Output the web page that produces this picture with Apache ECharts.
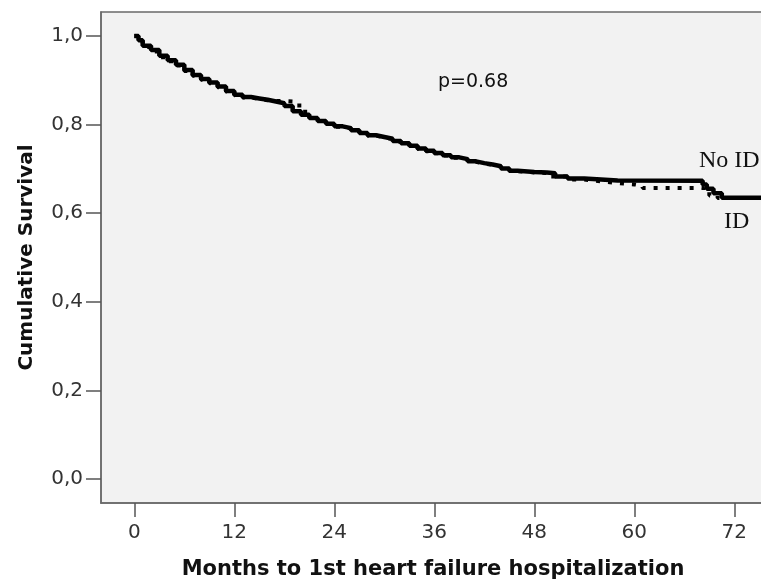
<!DOCTYPE html>
<html>
<head>
<meta charset="utf-8">
<script src="https://cdn.jsdelivr.net/npm/echarts@6/dist/echarts.min.js"></script>
<style>html,body{margin:0;padding:0;background:#fff}#c{width:761px;height:581px}</style>
</head>
<body>
<div id="c"></div>
<script>
// Kaplan-Meier estimates (months, cumulative survival)
const noIdMonths = [0,0.5,1,2,3,4,5,6,7,8,9,10,11,12,13,14,15,16,17,18,19,20,21,22,23,24,25,26,27,28,29,30,31,32,33,34,35,36,37,38,39,40,41,42,43,44,45,46,48,49.5,50.5,52,54,56,58,68.2,68.7,69.5,70.5,75.5];
const noIdSurv   = [1.000,0.990,0.978,0.968,0.955,0.945,0.935,0.923,0.912,0.903,0.895,0.886,0.876,0.867,0.862,0.859,0.856,0.852,0.848,0.842,0.830,0.822,0.815,0.808,0.802,0.796,0.792,0.787,0.781,0.776,0.772,0.768,0.763,0.758,0.752,0.746,0.741,0.736,0.731,0.726,0.722,0.717,0.713,0.710,0.706,0.701,0.696,0.693,0.692,0.690,0.683,0.678,0.676,0.674,0.673,0.665,0.655,0.645,0.635,0.635];

const idMonths = [0,0.5,1,2,3,4,5,6,7,8,9,10,11,12,13,14,15,16,17,18,19,19.8,20.5,21,22,23,24,25,26,27,28,29,30,31,32,33,34,35,36,37,38,39,40,41,42,43,44,45,46,48,50,52,54,56,58,60,61,68.3,69,70,75.5];
const idSurv   = [1.000,0.988,0.975,0.965,0.952,0.943,0.933,0.921,0.910,0.901,0.893,0.884,0.874,0.866,0.861,0.858,0.855,0.853,0.853,0.852,0.850,0.835,0.822,0.815,0.808,0.801,0.795,0.791,0.786,0.780,0.775,0.771,0.767,0.762,0.757,0.751,0.745,0.740,0.735,0.730,0.725,0.721,0.716,0.712,0.709,0.705,0.700,0.695,0.692,0.690,0.683,0.676,0.672,0.668,0.665,0.662,0.657,0.650,0.640,0.634,0.634];

const xTicks = [0,12,24,36,48,60,72];
const yTicks = [0,0.2,0.4,0.6,0.8,1.0];

const pairs = (xs, ys) => xs.map((x, i) => [x, ys[i]]);

const chart = echarts.init(document.getElementById('c'), null, {renderer:'canvas'});
chart.setOption({
  animation: false,
  backgroundColor: '#ffffff',
  grid: {left: 101, top: 12, width: 664, height: 491, show: true, containLabel: false, outerBoundsMode: 'none',
         backgroundColor: '#f2f2f2', borderColor: '#6a6a6a', borderWidth: 1.5},
  xAxis: {
    type: 'value', min: -4, max: (765-134.3)/100*12,
    name: 'Months to 1st heart failure hospitalization', nameLocation: 'middle', nameGap: 56,
    nameTextStyle: {fontFamily: 'DejaVu Sans', fontWeight: 'bold', fontSize: 21, color: '#111'},
    axisLine: {show: true, onZero: false, lineStyle: {color: '#6a6a6a', width: 1.5}},
    axisTick: {show: true, length: 14, customValues: xTicks, lineStyle: {color: '#555', width: 1.5}},
    axisLabel: {customValues: xTicks, margin: 20, fontFamily: 'DejaVu Sans', fontSize: 20, color: '#333'},
    splitLine: {show: false}
  },
  yAxis: {
    type: 'value', min: -0.054, max: 1.054,
    name: 'Cumulative Survival', nameLocation: 'middle', nameGap: 64,
    nameTextStyle: {fontFamily: 'DejaVu Sans', fontWeight: 'bold', fontSize: 20, color: '#111'},
    axisLine: {show: true, onZero: false, lineStyle: {color: '#6a6a6a', width: 1.5}},
    axisTick: {show: true, length: 15, customValues: yTicks, lineStyle: {color: '#555', width: 1.5}},
    axisLabel: {customValues: yTicks, margin: 18, fontFamily: 'DejaVu Sans', fontSize: 20, color: '#333',
      formatter: v => v.toFixed(1).replace('.', ',')},
    splitLine: {show: false}
  },
  series: [
    {name: 'ID', type: 'line', step: 'end', showSymbol: false, symbol: 'none',
     data: pairs(idMonths, idSurv), lineStyle: {color: '#000', width: 4, type: [4, 8]}, z: 2},
    {name: 'No ID', type: 'line', step: 'end', showSymbol: false, symbol: 'none',
     data: pairs(noIdMonths, noIdSurv), lineStyle: {color: '#000', width: 4.5}, z: 3}
  ],
  graphic: [
    {type: 'text', left: 438, top: 73, style: {text: 'p=0.68', font: '19px "DejaVu Sans"', fill: '#111'}},
    {type: 'text', left: 699, top: 149, style: {text: 'No ID', font: '24px "Liberation Serif"', fill: '#111'}},
    {type: 'text', left: 724, top: 210, style: {text: 'ID', font: '24px "Liberation Serif"', fill: '#111'}}
  ]
});
</script>
</body>
</html>
